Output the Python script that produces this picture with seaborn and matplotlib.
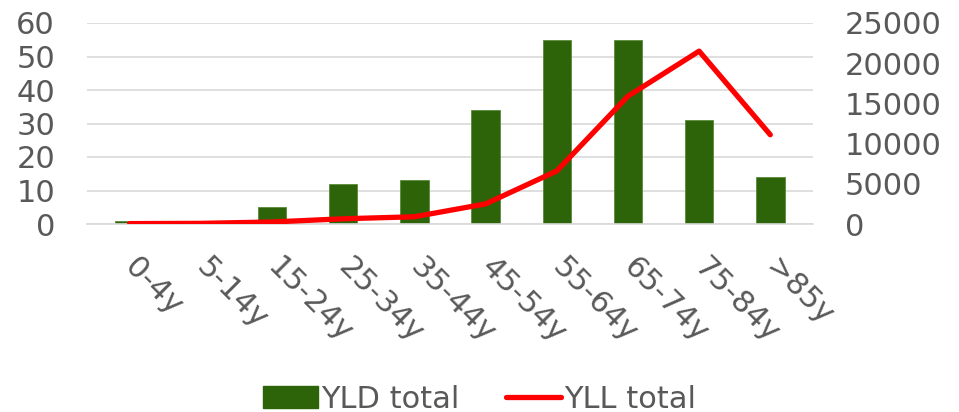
import numpy as np
import pandas as pd
import seaborn as sns
from matplotlib import pyplot as plt
from matplotlib.lines import Line2D
from matplotlib.patches import Patch

age_groups = ['0-4y', '5-14y', '15-24y', '25-34y', '35-44y', '45-54y', '55-64y', '65-74y', '75-84y', '>85y']
yld_total = [1.0, 0.9, 5, 12, 13, 34, 55, 55, 31, 14]
yll_total = [50, 80, 250, 650, 900, 2500, 6600, 15900, 21500, 11100]

GREEN = '#2e6409'
RED = '#ff0000'
TEXT = '#595959'
GRID = '#d9d9d9'


def main():
    sns.set_style('white')
    plt.rcParams['font.family'] = ['DejaVu Sans']

    df = pd.DataFrame({'age': age_groups, 'yld': yld_total, 'yll': yll_total})
    df['pos'] = np.arange(len(df))

    fig, ax = plt.subplots(figsize=(9.59, 4.12), dpi=100)
    fig.subplots_adjust(left=87 / 959, right=813 / 959, top=1 - 23 / 412, bottom=1 - 224 / 412)

    sns.barplot(data=df, x='age', y='yld', color=GREEN, width=0.4, saturation=1,
                edgecolor='#5a8a3a', linewidth=0.6, ax=ax, zorder=2)
    ax.set_ylim(0, 60)
    ax.set_yticks(range(0, 61, 10))
    ax.set_xlim(-0.6, len(df) - 0.4)
    ax.yaxis.grid(True, color=GRID, linewidth=1.2, zorder=0)
    ax.set_axisbelow(True)
    ax.set_xlabel('')
    ax.set_ylabel('')
    for s in ['top', 'right', 'left']:
        ax.spines[s].set_visible(False)
    ax.spines['bottom'].set_color(GRID)
    ax.spines['bottom'].set_linewidth(1.2)
    ax.tick_params(axis='both', length=0, labelsize=22, colors=TEXT)
    ax.tick_params(axis='y', pad=23)
    ax.tick_params(axis='x', pad=28)
    ax.set_xticks(range(len(age_groups)))
    ax.set_xticklabels(age_groups, rotation=-45, ha='left', va='center', rotation_mode='anchor')

    ax2 = ax.twinx()
    sns.lineplot(data=df, x='pos', y='yll', color=RED, linewidth=3.8, ax=ax2, zorder=3)
    ax2.set_ylim(0, 25000)
    ax2.set_yticks(range(0, 25001, 5000))
    ax2.set_ylabel('')
    for s in ax2.spines.values():
        s.set_visible(False)
    ax2.tick_params(axis='y', length=0, labelsize=22, colors=TEXT, pad=23)
    ax2.set_xlim(ax.get_xlim())

    handles = [Patch(facecolor=GREEN, edgecolor=GREEN),
               Line2D([0], [0], color=RED, linewidth=3.8)]
    fig.legend(handles, ['YLD total', 'YLL total'], loc='center', bbox_to_anchor=(0.5, 1 - 399 / 412),
               ncol=2, frameon=False, fontsize=22, labelcolor=TEXT, handlelength=1.8,
               handletextpad=0.1, columnspacing=1.5, borderpad=0)

    fig.savefig('out.png', dpi=100)


if __name__ == '__main__':
    main()
